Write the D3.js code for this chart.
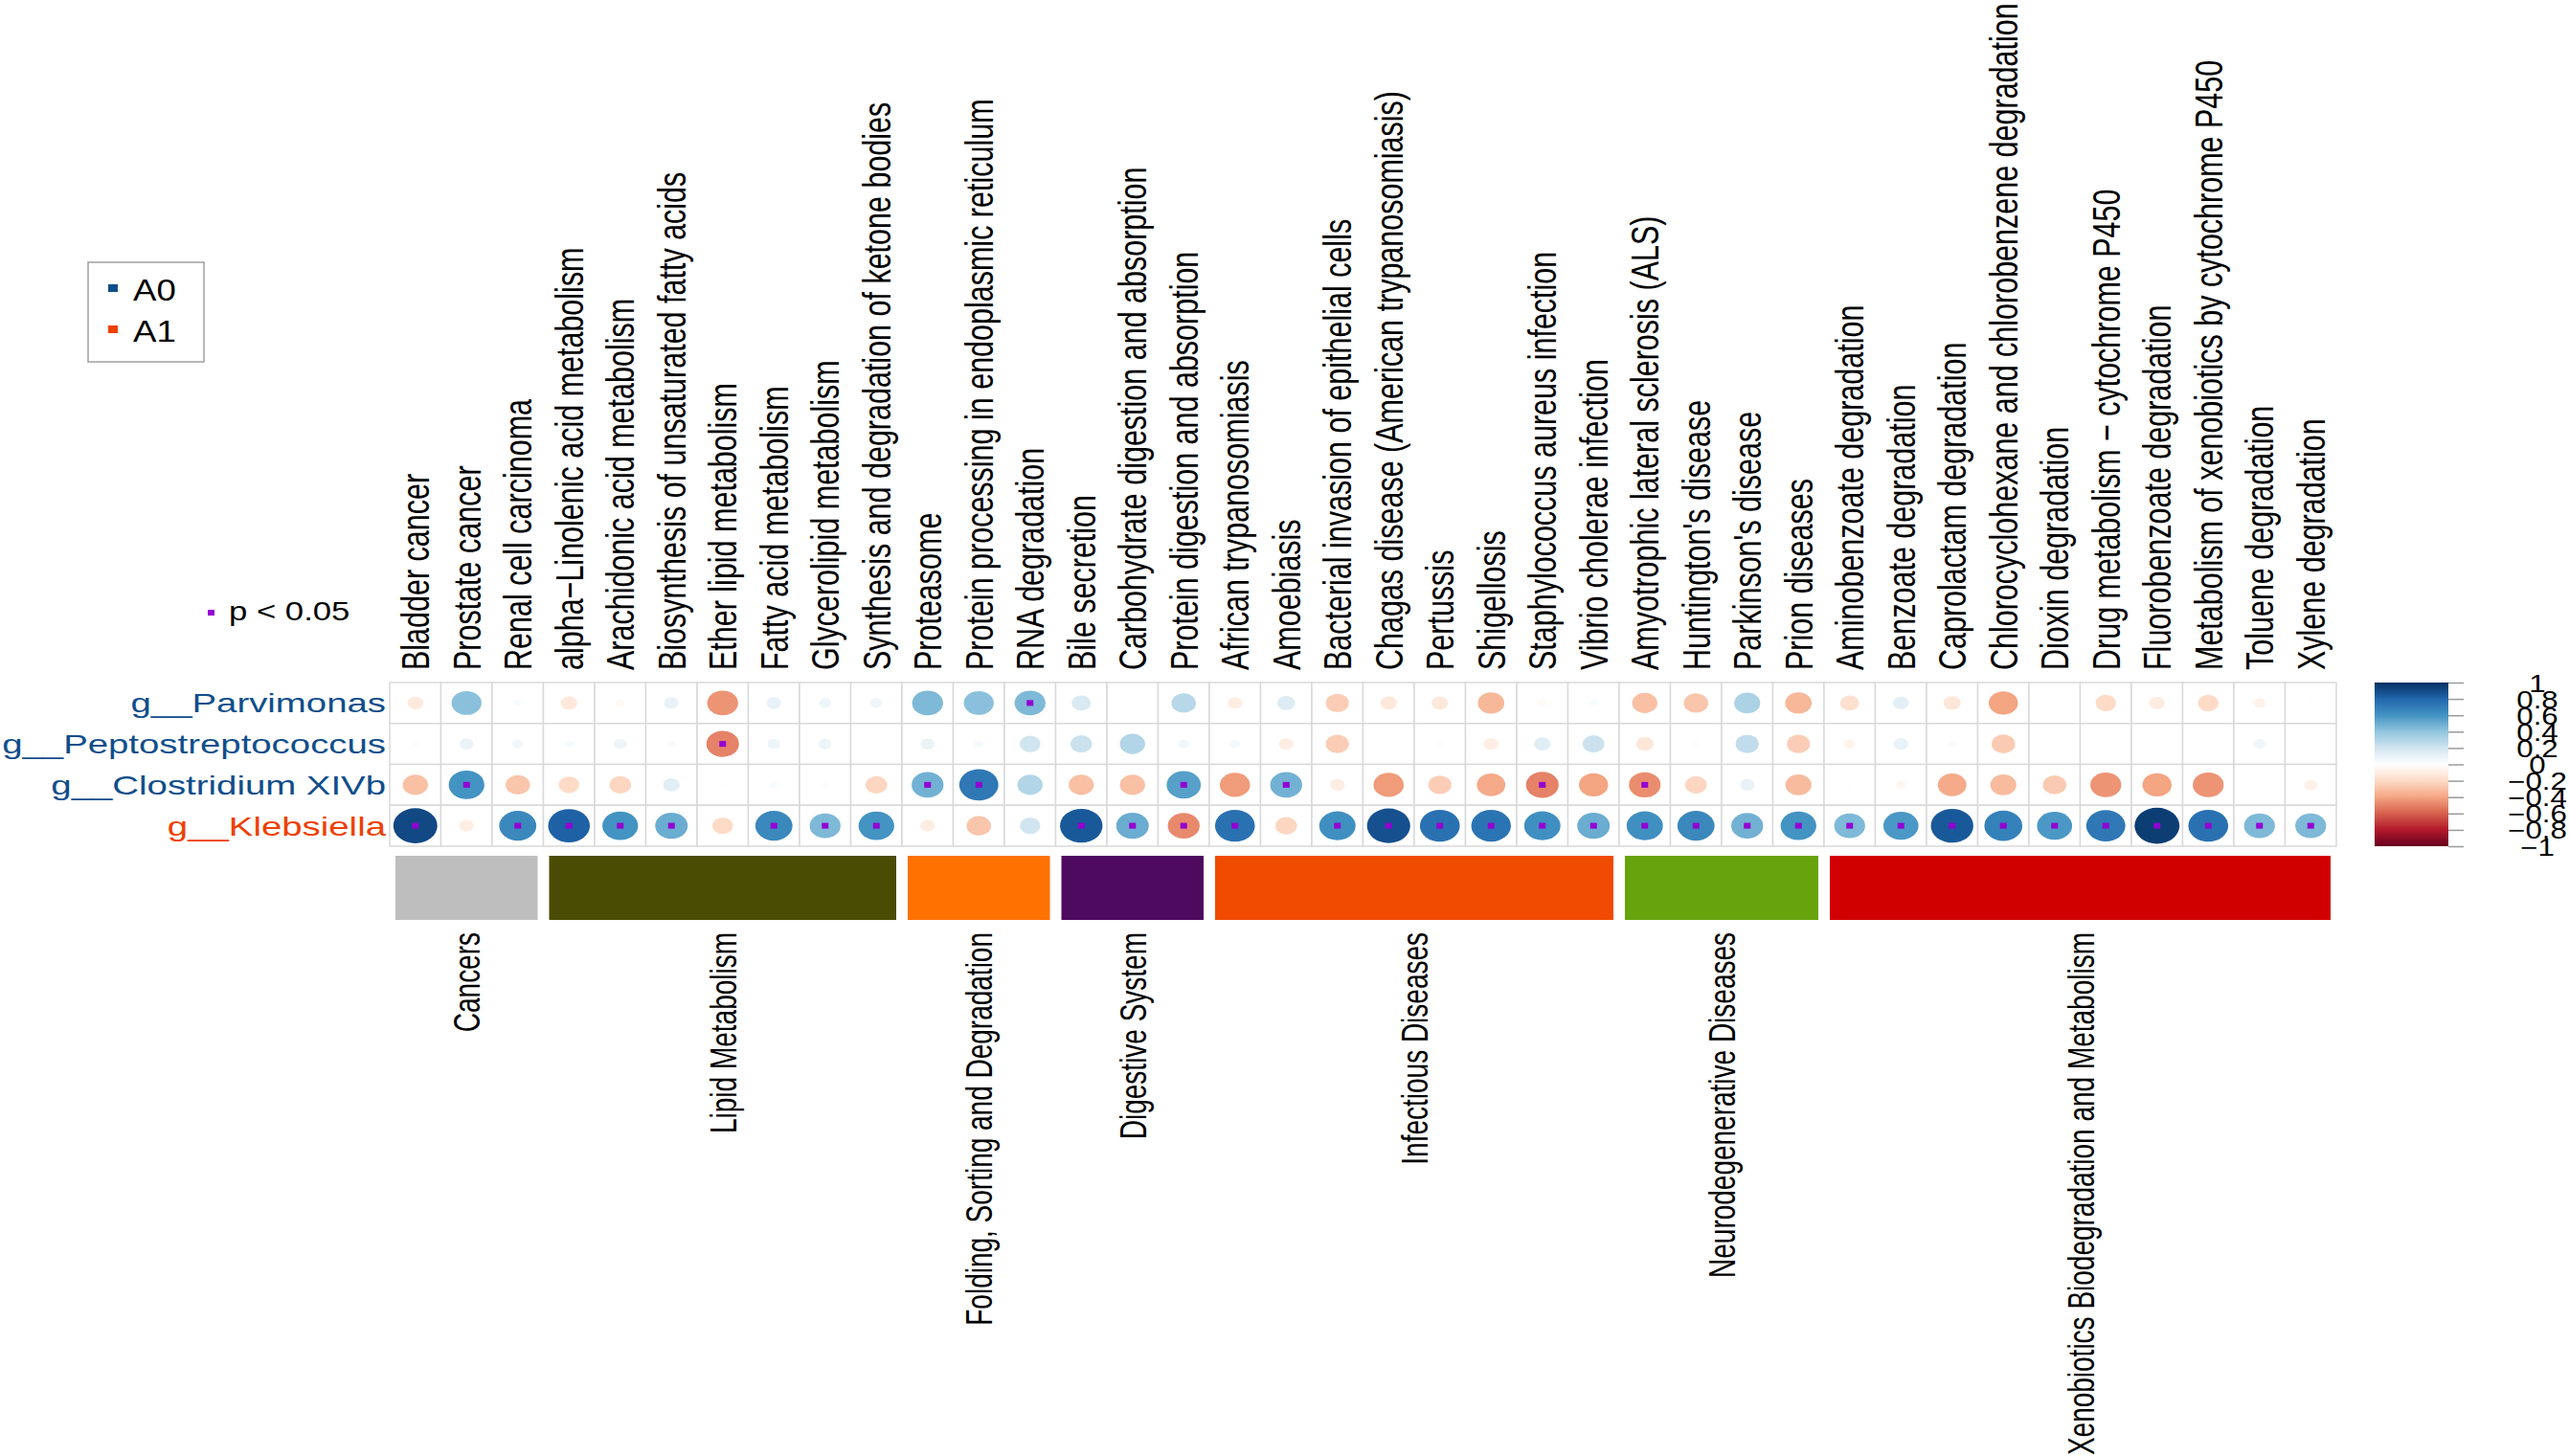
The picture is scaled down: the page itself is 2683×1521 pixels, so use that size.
<!DOCTYPE html>
<html>
<head>
<meta charset="utf-8">
<script src="https://cdn.jsdelivr.net/npm/d3@7/dist/d3.min.js"></script>
<style>
  body { margin: 0; background: #fff; }
  text { font-family: "Liberation Sans", Arial, Helvetica, sans-serif; fill: #000; }
</style>
</head>
<body>
<svg id="chart" width="2683" height="1521"></svg>
<script>
// ---- data ----
var pathways = [
  "Bladder cancer", "Prostate cancer", "Renal cell carcinoma",
  "alpha\u2212Linolenic acid metabolism", "Arachidonic acid metabolism",
  "Biosynthesis of unsaturated fatty acids", "Ether lipid metabolism",
  "Fatty acid metabolism", "Glycerolipid metabolism",
  "Synthesis and degradation of ketone bodies",
  "Proteasome", "Protein processing in endoplasmic reticulum", "RNA degradation",
  "Bile secretion", "Carbohydrate digestion and absorption", "Protein digestion and absorption",
  "African trypanosomiasis", "Amoebiasis", "Bacterial invasion of epithelial cells",
  "Chagas disease (American trypanosomiasis)", "Pertussis", "Shigellosis",
  "Staphylococcus aureus infection", "Vibrio cholerae infection",
  "Amyotrophic lateral sclerosis (ALS)", "Huntington's disease", "Parkinson's disease", "Prion diseases",
  "Aminobenzoate degradation", "Benzoate degradation", "Caprolactam degradation",
  "Chlorocyclohexane and chlorobenzene degradation", "Dioxin degradation",
  "Drug metabolism \u2212 cytochrome P450", "Fluorobenzoate degradation",
  "Metabolism of xenobiotics by cytochrome P450", "Toluene degradation", "Xylene degradation"
];

var groupNames = ["Cancers", "Lipid Metabolism", "Folding, Sorting and Degradation",
  "Digestive System", "Infectious Diseases", "Neurodegenerative Diseases",
  "Xenobiotics Biodegradation and Metabolism"];
var groupSizes = [3, 7, 3, 3, 8, 4, 10];

var genera = ["g__Parvimonas", "g__Peptostreptococcus", "g__Clostridium XIVb", "g__Klebsiella"];
var generaGroup = ["A0", "A0", "A0", "A1"];
var legendGroups = ["A0", "A1"];

var parvimonas = [-0.12, 0.42, 0.03, -0.13, -0.04, 0.10, -0.45, 0.10, 0.07, 0.07,
  0.45, 0.42, 0.45, 0.17, 0.01, 0.28, -0.10, 0.15, -0.25, -0.13, -0.13, -0.33, -0.03, 0.03,
  -0.30, -0.28, 0.32, -0.33, -0.17, 0.12, -0.14, -0.40, 0.01, -0.20, -0.11, -0.20, -0.07, -0.01];
var peptostreptococcus = [0.02, 0.09, 0.06, 0.04, 0.08, 0.03, -0.50, 0.08, 0.08, 0.01,
  0.09, 0.04, 0.20, 0.22, 0.30, 0.06, 0.05, -0.10, -0.25, 0.01, 0.02, -0.10, 0.13, 0.22,
  -0.14, -0.02, 0.25, -0.25, -0.06, 0.10, -0.03, -0.26, 0.01, 0.01, 0.01, 0.01, 0.07, 0.00];
var clostridium = [-0.30, 0.60, -0.28, -0.20, -0.22, 0.13, -0.01, 0.03, 0.02, -0.22,
  0.48, 0.72, 0.30, -0.30, -0.30, 0.55, -0.43, 0.48, -0.10, -0.43, -0.25, -0.38, -0.50, -0.40,
  -0.47, -0.22, 0.10, -0.32, -0.01, -0.05, -0.38, -0.32, -0.26, -0.45, -0.40, -0.45, -0.01, -0.08];
var klebsiella = [0.91, -0.10, 0.65, 0.82, 0.60, 0.50, -0.20, 0.65, 0.45, 0.60,
  -0.10, -0.28, 0.20, 0.85, 0.50, -0.48, 0.75, -0.22, 0.62, 0.88, 0.75, 0.74, 0.62, 0.50,
  0.62, 0.65, 0.48, 0.60, 0.45, 0.58, 0.85, 0.68, 0.58, 0.72, 0.95, 0.75, 0.45, 0.45];

// columns with p < 0.05, per genus
var sigParvimonas = [12];
var sigPeptostreptococcus = [6];
var sigClostridium = [1, 10, 11, 15, 17, 22, 24];
var sigKlebsiella = [0, 2, 3, 4, 5, 7, 8, 9, 13, 14, 15, 16, 18, 19, 20, 21, 22, 23, 24,
  25, 26, 27, 28, 29, 30, 31, 32, 33, 34, 35, 36, 37];

var colorTicks = [1, 0.8, 0.6, 0.4, 0.2, 0, -0.2, -0.4, -0.6, -0.8, -1];

// ---- styles ----
var groupColors = ["#bebebe", "#4a4c04", "#ff7100", "#4e0a5f", "#f04b00", "#66a30c", "#d10000"];
var legendColors = {A0: "#104E8B", A1: "#EE4000"};
var sigColor = "#9400D3";
var palette = ["#67001F", "#B2182B", "#D6604D", "#F4A582", "#FDDBC7", "#FFFFFF",
               "#D1E5F0", "#92C5DE", "#4393C3", "#2166AC", "#053061"];

var values = [parvimonas, peptostreptococcus, clostridium, klebsiella];
var sigs = [sigParvimonas, sigPeptostreptococcus, sigClostridium, sigKlebsiella];

var cells = [];
genera.forEach(function(g, i) {
  pathways.forEach(function(p, j) {
    cells.push({genus: g, pathway: p, r: values[i][j], sig: sigs[i].indexOf(j) >= 0});
  });
});

var svg = d3.select("#chart");
svg.append("rect").attr("width", 2683).attr("height", 1521).attr("fill", "#fff");

var x = d3.scaleBand().domain(pathways).range([407, 2440]);
var y = d3.scaleBand().domain(genera).range([713, 884]);
var bw = x.bandwidth(), bh = y.bandwidth();

var color = d3.scaleLinear()
  .domain(palette.map(function(d, i) { return -1 + i * 0.2; }))
  .range(palette)
  .interpolate(d3.interpolateRgb);

// grid
var grid = svg.append("g").attr("class", "grid");
grid.selectAll("rect")
  .data(cells)
  .enter().append("rect")
  .attr("x", function(d) { return x(d.pathway); })
  .attr("y", function(d) { return y(d.genus); })
  .attr("width", bw)
  .attr("height", bh)
  .attr("fill", "#fff")
  .attr("stroke", "#d9d9d9")
  .attr("stroke-width", 1.5);

// circles (area ~ |r|)
var marks = svg.append("g").attr("class", "marks");
marks.selectAll("ellipse")
  .data(cells)
  .enter().append("ellipse")
  .attr("cx", function(d) { return x(d.pathway) + bw / 2; })
  .attr("cy", function(d) { return y(d.genus) + bh / 2; })
  .attr("rx", function(d) { return 0.45 * Math.sqrt(Math.abs(d.r)) * bw; })
  .attr("ry", function(d) { return 0.45 * Math.sqrt(Math.abs(d.r)) * bh; })
  .attr("fill", function(d) { return color(d.r); });

marks.selectAll("rect.sig")
  .data(cells.filter(function(d) { return d.sig; }))
  .enter().append("rect")
  .attr("class", "sig")
  .attr("x", function(d) { return x(d.pathway) + bw / 2 - 3.5; })
  .attr("y", function(d) { return y(d.genus) + bh / 2 - 3; })
  .attr("width", 7)
  .attr("height", 6)
  .attr("fill", sigColor);

// row labels
svg.append("g").selectAll("text")
  .data(genera)
  .enter().append("text")
  .attr("transform", function(d) {
    return "translate(403," + (y(d) + bh / 2 + 10) + ") scale(1.37,1)";
  })
  .attr("text-anchor", "end")
  .attr("font-size", 28)
  .style("fill", function(d, i) { return legendColors[generaGroup[i]]; })
  .text(function(d) { return d; });

// column labels
svg.append("g").selectAll("text")
  .data(pathways)
  .enter().append("text")
  .attr("transform", function(d) {
    return "translate(" + (x(d) + bw / 2) + ",700) rotate(-90) scale(1,1.33)";
  })
  .attr("dy", "0.36em")
  .attr("font-size", 30.5)
  .text(function(d) { return d; });

// category bars
var groups = [], start = 0;
groupNames.forEach(function(name, i) {
  groups.push({name: name, first: pathways[start], last: pathways[start + groupSizes[i] - 1], color: groupColors[i]});
  start += groupSizes[i];
});

var cat = svg.append("g").attr("class", "categories");
cat.selectAll("rect")
  .data(groups)
  .enter().append("rect")
  .attr("x", function(d) { return x(d.first) + 6; })
  .attr("y", 894)
  .attr("width", function(d) { return x(d.last) + bw - x(d.first) - 12; })
  .attr("height", 67)
  .attr("fill", function(d) { return d.color; });

cat.selectAll("text")
  .data(groups)
  .enter().append("text")
  .attr("transform", function(d) {
    var cx = (x(d.first) + x(d.last) + bw) / 2;
    return "translate(" + cx + ",974) rotate(-90) scale(1,1.4)";
  })
  .attr("text-anchor", "end")
  .attr("dy", "0.36em")
  .attr("font-size", 28)
  .text(function(d) { return d.name; });

// colour bar
var defs = svg.append("defs");
var grad = defs.append("linearGradient")
  .attr("id", "cbar").attr("x1", 0).attr("y1", 1).attr("x2", 0).attr("y2", 0);
grad.selectAll("stop")
  .data(palette)
  .enter().append("stop")
  .attr("offset", function(d, i) { return i / (palette.length - 1); })
  .attr("stop-color", function(d) { return d; });

var cb = d3.scaleLinear().domain([-1, 1]).range([884, 713]);
svg.append("rect")
  .attr("x", 2480).attr("y", cb(1))
  .attr("width", 77).attr("height", cb(-1) - cb(1))
  .attr("fill", "url(#cbar)");

var cbAxis = svg.append("g")
  .attr("transform", "translate(2557,0)")
  .call(d3.axisRight(cb).tickValues(colorTicks).tickSize(16)
        .tickFormat(function(d) { return d3.format("")(d).replace("-", "\u2212"); }));
cbAxis.select(".domain").remove();
cbAxis.selectAll(".tick line").attr("stroke", "#9a9a9a").attr("stroke-width", 1.5);
cbAxis.selectAll(".tick text")
  .attr("x", 0)
  .attr("dy", "0.36em")
  .attr("text-anchor", "middle")
  .attr("transform", "translate(93,0) scale(1.25,1)")
  .attr("font-size", 25)
  .attr("font-family", null)
  .style("fill", "#000");

// group legend
var leg = svg.append("g");
leg.append("rect")
  .attr("x", 92).attr("y", 274).attr("width", 121).attr("height", 104)
  .attr("fill", "none").attr("stroke", "#a0a0a0").attr("stroke-width", 1.5);
var legItems = leg.selectAll("g.item")
  .data(legendGroups)
  .enter().append("g")
  .attr("transform", function(d, i) { return "translate(0," + (i * 43) + ")"; });
legItems.append("rect")
  .attr("x", 113).attr("y", 297).attr("width", 10).attr("height", 8)
  .attr("fill", function(d) { return legendColors[d]; });
legItems.append("text")
  .attr("transform", "translate(139,314) scale(1.18,1)")
  .attr("font-size", 31)
  .text(function(d) { return d; });

// p-value legend
svg.append("rect")
  .attr("x", 217).attr("y", 637).attr("width", 7).attr("height", 6)
  .attr("fill", sigColor);
svg.append("text")
  .attr("transform", "translate(239,648) scale(1.24,1)")
  .attr("font-size", 28)
  .text("p < 0.05");
</script>
</body>
</html>
